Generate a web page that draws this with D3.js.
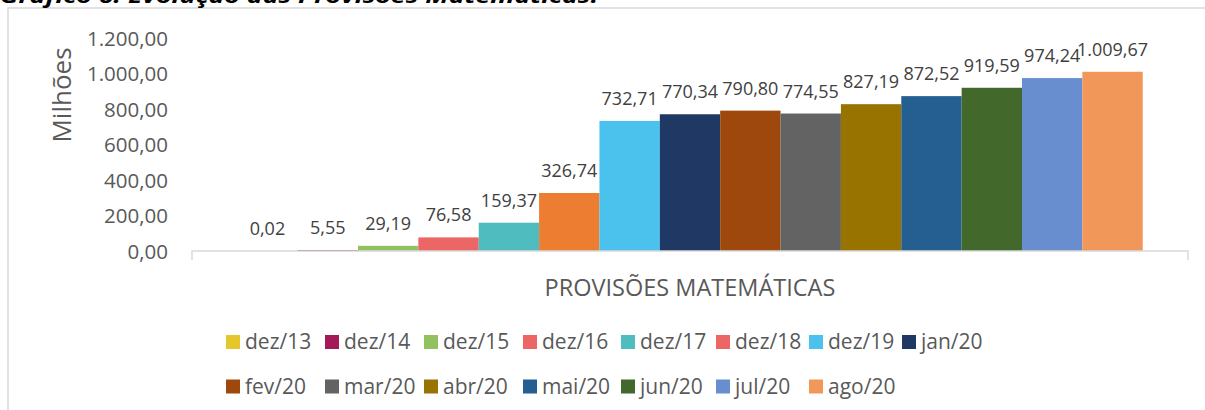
<!DOCTYPE html>
<html>
<head>
<meta charset="utf-8">
<script src="https://cdn.jsdelivr.net/npm/d3@7"></script>
<style>
  html, body { margin: 0; padding: 0; background: #fff; }
  svg { display: block; }
  text { font-family: "Open Sans", "Noto Sans", sans-serif; }
</style>
</head>
<body>
<svg id="chart" width="1205" height="410"></svg>
<script>
// ---- data ----
const categories = ["dez/13","dez/14","dez/15","dez/16","dez/17","dez/18","dez/19","jan/20","fev/20","mar/20","abr/20","mai/20","jun/20","jul/20","ago/20"];
const values = [0.02, 5.55, 29.19, 76.58, 159.37, 326.74, 732.71, 770.34, 790.80, 774.55, 827.19, 872.52, 919.59, 974.24, 1009.67];
const barColors = ["#E6C72B","#A5195B","#92C25F","#EC6666","#4FBDBF","#ED7D31","#4BC2EE","#1F3864","#9E480E","#636363","#997300","#255E91","#43682B","#698ED0","#F1975A"];
const legendColors = ["#E6C72B","#A5195B","#92C25F","#EC6666","#4FBDBF","#EC6666","#4BC2EE","#1F3864","#9E480E","#636363","#997300","#255E91","#43682B","#698ED0","#F1975A"];
const yTicks = [0, 200, 400, 600, 800, 1000, 1200];
const titleText = "Gráfico 6: Evolução das Provisões Matemáticas.";
const axisTitle = "Milhões";
const categoryLabel = "PROVISÕES MATEMÁTICAS";

const svg = d3.select("#chart");
const textColor = "#595959";
const locale = d3.formatLocale({decimal: ",", thousands: ".", grouping: [3], currency: ["R$", ""]});
const fmt = locale.format(",.2f");

// frame
svg.append("rect").attr("x", 8).attr("y", 8).attr("width", 1260).attr("height", 460)
  .attr("fill", "none").attr("stroke", "#d9d9d9").attr("stroke-width", 1.5);

// title (cut off at top, as in the source)
svg.append("text").attr("x", 0).attr("y", 3)
  .attr("font-size", 20).attr("font-weight", "bold").attr("font-style", "italic")
  .attr("fill", "#000").attr("textLength", 598).attr("lengthAdjust", "spacingAndGlyphs")
  .text(titleText);

const x = d3.scaleBand().domain(categories).range([192, 1188]).paddingInner(0).paddingOuter(0.75);
const y = d3.scaleLinear().domain([0, 1200]).range([251, 38]);

// y axis
const yAxis = d3.axisLeft(y).tickValues(yTicks).tickFormat(fmt).tickSize(0).tickPadding(0);
const gy = svg.append("g").attr("transform", "translate(168,0)").call(yAxis);
gy.select(".domain").remove();
gy.selectAll("text").attr("font-size", 20.5).attr("fill", textColor)
  .attr("font-family", "'Open Sans', 'Noto Sans', sans-serif").attr("dy", "0.35em");

// axis title
svg.append("text").attr("transform", "translate(71,95) rotate(-90)")
  .attr("text-anchor", "middle").attr("font-size", 26).attr("fill", textColor).text(axisTitle);

// bars
svg.append("g").selectAll("rect").data(values).join("rect")
  .attr("x", (d, i) => x(categories[i]))
  .attr("y", d => y(d))
  .attr("width", x.bandwidth())
  .attr("height", d => y(0) - y(d))
  .attr("fill", (d, i) => barColors[i]);

// x axis line
svg.append("path")
  .attr("d", `M192,260V${y(0)}H1188V260`)
  .attr("fill", "none").attr("stroke", "#d9d9d9").attr("stroke-width", 1.5);

// data labels
svg.append("g").selectAll("text").data(values).join("text")
  .attr("x", (d, i) => x(categories[i]) + x.bandwidth() / 2)
  .attr("y", d => y(d) - 16)
  .attr("text-anchor", "middle").attr("font-size", 18).attr("fill", "#404040")
  .text(d => fmt(d));

// category label
svg.append("text").attr("x", 690).attr("y", 296).attr("text-anchor", "middle")
  .attr("font-size", 23.5).attr("fill", textColor).text(categoryLabel);

// legend
const legendCols = [226, 325, 424, 523, 621, 716, 809, 902];
const legendRows = [342, 386.5];
const perRow = 8;
const lg = svg.append("g").selectAll("g").data(categories).join("g")
  .attr("transform", (d, i) => `translate(${legendCols[i % perRow]},${legendRows[Math.floor(i / perRow)]})`);
lg.append("rect").attr("x", 0).attr("y", -7).attr("width", 14).attr("height", 14)
  .attr("fill", (d, i) => legendColors[i]);
lg.append("text").attr("x", 19).attr("y", 0).attr("dy", "0.35em")
  .attr("font-size", 21).attr("fill", textColor).text(d => d);
</script>
</body>
</html>
